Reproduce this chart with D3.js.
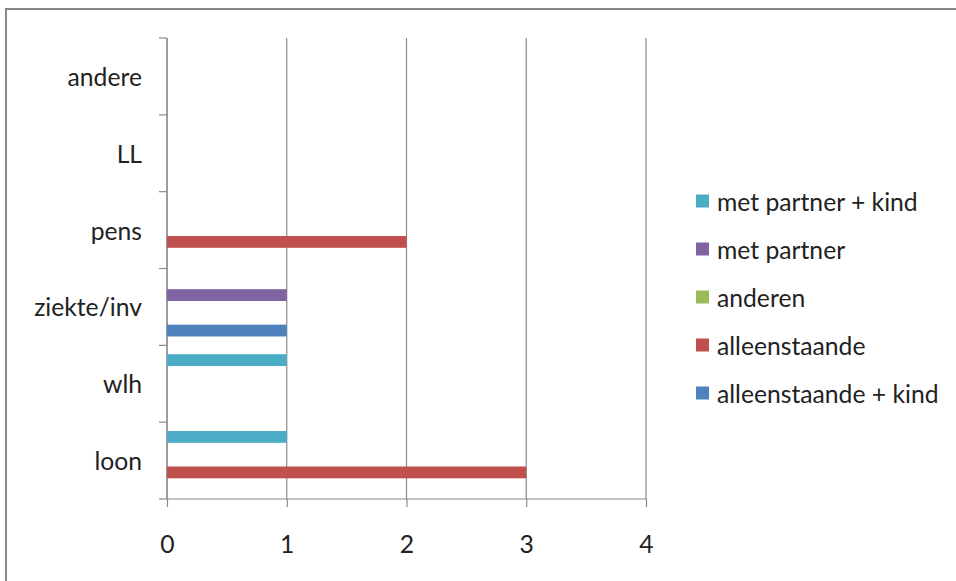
<!DOCTYPE html>
<html>
<head>
<meta charset="utf-8">
<script src="https://cdn.jsdelivr.net/npm/d3@7"></script>
<style>
  html, body { margin: 0; padding: 0; background: #fff; }
  svg { display: block; }
  text { font-family: Lato, "Open Sans", sans-serif; fill: #222; }
</style>
</head>
<body>
<svg id="chart" width="956" height="581"></svg>
<script>
// ---- data ----
const categories = ["loon", "wlh", "ziekte/inv", "pens", "LL", "andere"];
const seriesNames = ["alleenstaande + kind", "alleenstaande", "anderen", "met partner", "met partner + kind"];
const seriesColors = ["#4F81BD", "#C0504D", "#9BBB59", "#8064A2", "#4BACC6"];
const alleenstaandeKind = [0, 0, 1, 0, 0, 0];
const alleenstaande    = [3, 0, 0, 2, 0, 0];
const anderen          = [0, 0, 0, 0, 0, 0];
const metPartner       = [0, 0, 1, 0, 0, 0];
const metPartnerKind   = [1, 1, 0, 0, 0, 0];
const seriesValues = [alleenstaandeKind, alleenstaande, anderen, metPartner, metPartnerKind];
const xTicks = [0, 1, 2, 3, 4];

// ---- layout ----
const svg = d3.select("#chart");
const plot = { left: 167, right: 646, top: 38, bottom: 499 };
const gridColor = "#8a8a8a";
const fontSize = 24.7;

// outer chart border
svg.append("rect")
  .attr("x", 6).attr("y", 9)
  .attr("width", 1000).attr("height", 700)
  .attr("fill", "none").attr("stroke", "#888").attr("stroke-width", 2);

const x = d3.scaleLinear().domain([0, 4]).range([plot.left, plot.right]);
const gap = 1.5 / 6.5;
const y = d3.scaleBand()
  .domain(categories.slice().reverse())
  .range([plot.top, plot.bottom])
  .paddingInner(gap).paddingOuter(gap / 2);
const ySeries = d3.scaleBand()
  .domain(seriesNames.slice().reverse())
  .range([0, y.bandwidth()]);
const step = y.step();

// gridlines
svg.append("g").selectAll("line").data(xTicks).join("line")
  .attr("x1", d => x(d)).attr("x2", d => x(d))
  .attr("y1", plot.top).attr("y2", plot.bottom)
  .attr("stroke", gridColor).attr("stroke-width", 1.2);

// x axis
const xAxis = svg.append("g")
  .attr("transform", `translate(0,${plot.bottom})`)
  .call(d3.axisBottom(x).tickValues(xTicks).tickFormat(d3.format("d")).tickSize(8).tickPadding(28));
xAxis.select(".domain").attr("stroke", gridColor).attr("stroke-width", 1.2)
  .attr("d", `M${plot.left},0H${plot.right}`);
xAxis.selectAll(".tick line").attr("stroke", gridColor).attr("stroke-width", 1.2);
xAxis.selectAll(".tick text").attr("font-size", fontSize).attr("font-family", "Lato").attr("fill", "#222");

// y axis: ticks at band boundaries
const boundaries = d3.range(categories.length + 1).map(i => plot.top + i * step);
const yAxisG = svg.append("g");
yAxisG.append("line")
  .attr("x1", plot.left).attr("x2", plot.left)
  .attr("y1", plot.top).attr("y2", plot.bottom)
  .attr("stroke", gridColor).attr("stroke-width", 1.2);
yAxisG.selectAll("line.t").data(boundaries).join("line").attr("class", "t")
  .attr("x1", plot.left - 8).attr("x2", plot.left)
  .attr("y1", d => d).attr("y2", d => d)
  .attr("stroke", gridColor).attr("stroke-width", 1.2);
yAxisG.selectAll("text").data(categories).join("text")
  .attr("x", 142)
  .attr("y", d => y(d) + y.bandwidth() / 2)
  .attr("text-anchor", "end")
  .attr("dominant-baseline", "central")
  .attr("font-size", fontSize)
  .text(d => d);

// bars
const barData = [];
seriesNames.forEach((s, si) => {
  categories.forEach((c, ci) => {
    barData.push({ series: s, cat: c, value: seriesValues[si][ci], color: seriesColors[si] });
  });
});
svg.append("g").selectAll("rect").data(barData.filter(d => d.value > 0)).join("rect")
  .attr("x", x(0))
  .attr("y", d => y(d.cat) + ySeries(d.series))
  .attr("width", d => x(d.value) - x(0))
  .attr("height", ySeries.bandwidth())
  .attr("fill", d => d.color);

// legend
const legendOrder = seriesNames.slice().reverse();
const legendColors = seriesColors.slice().reverse();
const lg = svg.append("g");
const legendY = d3.scalePoint().domain(legendOrder).range([201, 393]);
legendOrder.forEach((name, i) => {
  const cy = legendY(name);
  lg.append("rect")
    .attr("x", 696).attr("y", cy - 6.5)
    .attr("width", 13).attr("height", 13)
    .attr("fill", legendColors[i]);
  lg.append("text")
    .attr("x", 717).attr("y", cy)
    .attr("dominant-baseline", "central")
    .attr("font-size", fontSize)
    .text(name);
});
</script>
</body>
</html>
